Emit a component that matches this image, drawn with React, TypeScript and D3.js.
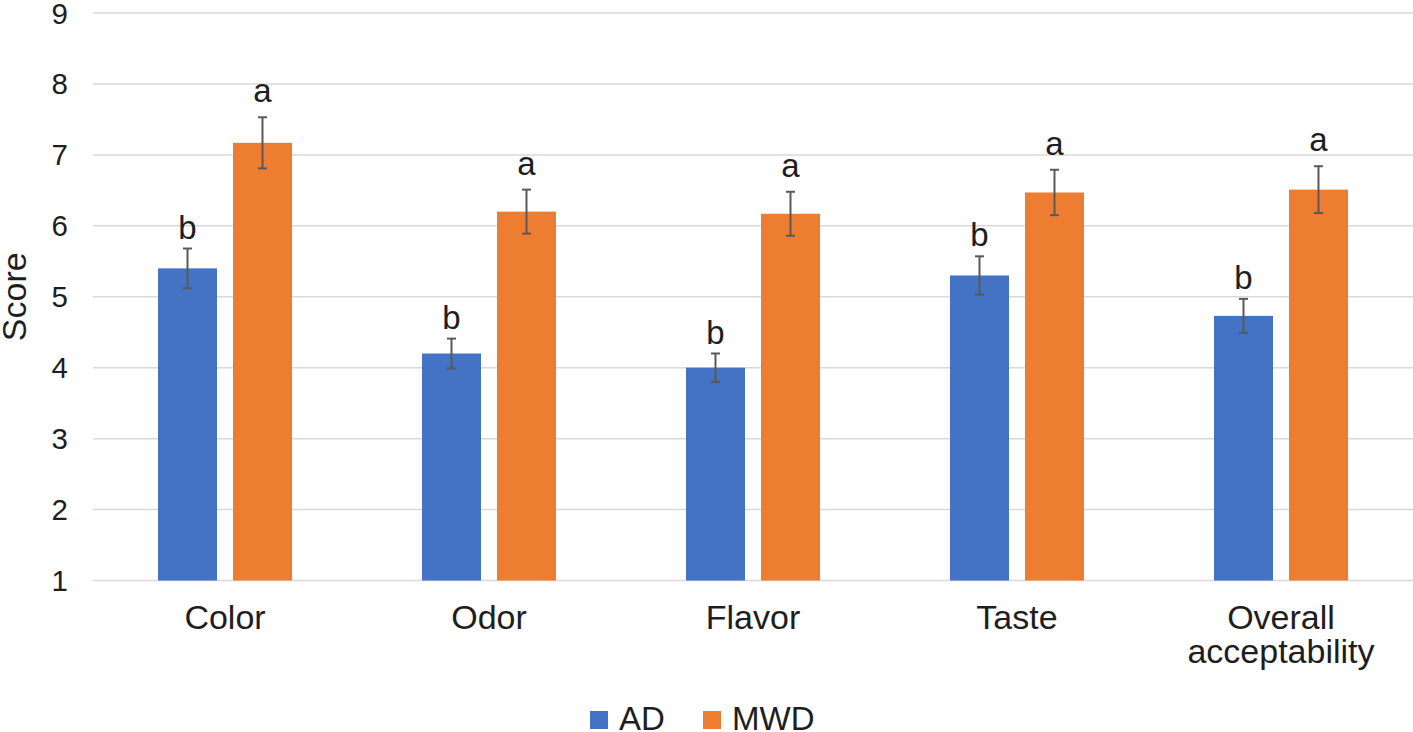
import { useEffect, useRef } from 'react';
import * as d3 from 'd3';

const categories = ['Color', 'Odor', 'Flavor', 'Taste', 'Overall acceptability'];
const seriesNames = ['AD', 'MWD'];
const adValues = [5.4, 4.2, 4.0, 5.3, 4.73];
const mwdValues = [7.17, 6.2, 6.17, 6.47, 6.51];
const adErrors = [0.28, 0.21, 0.2, 0.27, 0.24];
const mwdErrors = [0.36, 0.31, 0.31, 0.32, 0.33];
const adLetters = ['b', 'b', 'b', 'b', 'b'];
const mwdLetters = ['a', 'a', 'a', 'a', 'a'];
const yTicks = [1, 2, 3, 4, 5, 6, 7, 8, 9];

const colors: Record<string, string> = {
  AD: '#4472C4', // blue
  MWD: '#ED7D31', // orange
};

const font = '"Liberation Sans", Arial, sans-serif';
const textColor = '#1e1e1e';

interface Bar {
  category: string;
  series: string;
  value: number;
  error: number;
  letter: string;
}

const App = () => {
  const chartRef = useRef<SVGSVGElement>(null);

  useEffect(() => {
    if (!chartRef.current) return;
    const width = 1413;
    const height = 732;
    const svg = d3.select(chartRef.current);
    svg.selectAll('*').remove();
    svg.attr('width', width).attr('height', height);

    const bars: Bar[] = [];
    categories.forEach((c, i) => {
      bars.push({ category: c, series: 'AD', value: adValues[i], error: adErrors[i], letter: adLetters[i] });
      bars.push({ category: c, series: 'MWD', value: mwdValues[i], error: mwdErrors[i], letter: mwdLetters[i] });
    });

    const y = d3.scaleLinear().domain([1, 9]).range([580.5, 13]);
    const x0 = d3.scaleBand<string>().domain(categories).range([93, 1413]);
    const groupWidth = 134;
    const x1 = d3.scaleBand<string>()
      .domain(seriesNames)
      .range([0, groupWidth])
      .paddingInner(0.2133);
    const barX = (d: Bar) => (x0(d.category) || 0) + (x0.bandwidth() - groupWidth) / 2 + (x1(d.series) || 0);

    // Gridlines
    svg.append('g')
      .selectAll('line')
      .data(yTicks)
      .enter()
      .append('line')
      .attr('x1', 93)
      .attr('x2', width)
      .attr('y1', d => y(d))
      .attr('y2', d => y(d))
      .attr('stroke', '#d9d9d9')
      .attr('stroke-width', 1.5);

    // Y tick labels
    svg.append('g')
      .selectAll('text')
      .data(yTicks)
      .enter()
      .append('text')
      .attr('x', 68)
      .attr('y', d => y(d) + 10.5)
      .attr('text-anchor', 'end')
      .style('font-family', font)
      .style('font-size', '29.5px')
      .style('fill', textColor)
      .text(d => d);

    // Y axis title
    svg.append('text')
      .attr('transform', `translate(26, ${(y(1) + y(9)) / 2}) rotate(-90)`)
      .attr('text-anchor', 'middle')
      .style('font-family', font)
      .style('font-size', '34px')
      .style('fill', textColor)
      .text('Score');

    // Bars
    svg.append('g')
      .selectAll('rect')
      .data(bars)
      .enter()
      .append('rect')
      .attr('x', barX)
      .attr('y', d => y(d.value))
      .attr('width', x1.bandwidth())
      .attr('height', d => y(1) - y(d.value))
      .attr('fill', d => colors[d.series]);

    // Error bars
    const err = svg.append('g')
      .selectAll('g')
      .data(bars)
      .enter()
      .append('g')
      .attr('stroke', '#595959')
      .attr('stroke-width', 2);
    const cx = (d: Bar) => barX(d) + x1.bandwidth() / 2;
    err.append('line')
      .attr('x1', cx)
      .attr('x2', cx)
      .attr('y1', d => y(d.value + d.error))
      .attr('y2', d => y(d.value - d.error));
    err.append('line')
      .attr('x1', d => cx(d) - 4.5)
      .attr('x2', d => cx(d) + 4.5)
      .attr('y1', d => y(d.value + d.error))
      .attr('y2', d => y(d.value + d.error));
    err.append('line')
      .attr('x1', d => cx(d) - 4.5)
      .attr('x2', d => cx(d) + 4.5)
      .attr('y1', d => y(d.value - d.error))
      .attr('y2', d => y(d.value - d.error));

    // Significance letters
    svg.append('g')
      .selectAll('text')
      .data(bars)
      .enter()
      .append('text')
      .attr('x', cx)
      .attr('y', d => y(d.value + d.error) - (d.series === 'AD' ? 10 : 15))
      .attr('text-anchor', 'middle')
      .style('font-family', font)
      .style('font-size', '33px')
      .style('fill', textColor)
      .text(d => d.letter);

    // Category labels
    const catLabels = svg.append('g')
      .selectAll('text')
      .data(categories)
      .enter()
      .append('text')
      .attr('text-anchor', 'middle')
      .style('font-family', font)
      .style('font-size', '34px')
      .style('fill', textColor);
    catLabels.each(function (d) {
      const words = d.split(' ');
      const cxCat = (x0(d) || 0) + x0.bandwidth() / 2;
      d3.select(this)
        .selectAll('tspan')
        .data(words)
        .enter()
        .append('tspan')
        .attr('x', cxCat)
        .attr('y', (_w, i) => 629 + i * 34)
        .text(w => w);
    });

    // Legend
    const legendItems = [
      { name: 'AD', x: 590 },
      { name: 'MWD', x: 703 },
    ];
    const legend = svg.append('g')
      .selectAll('g')
      .data(legendItems)
      .enter()
      .append('g')
      .attr('transform', d => `translate(${d.x}, 711)`);
    legend.append('rect')
      .attr('width', 18)
      .attr('height', 18)
      .attr('fill', d => colors[d.name]);
    legend.append('text')
      .attr('x', 29)
      .attr('y', 18.5)
      .style('font-family', font)
      .style('font-size', '33px')
      .style('fill', textColor)
      .text(d => d.name);
  }, []);

  return (
    <div style={{ position: 'absolute', left: 0, top: 0, background: '#fff' }}>
      <svg ref={chartRef} style={{ display: 'block' }} />
    </div>
  );
};

export default App;
